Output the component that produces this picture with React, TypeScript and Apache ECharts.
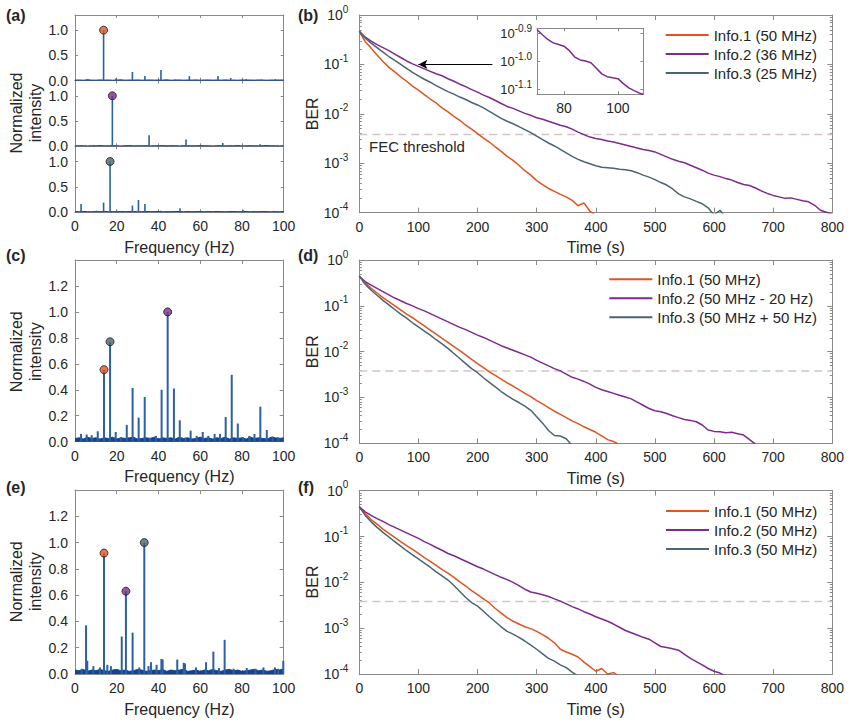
import React, { useEffect, useRef } from "react";
import * as echarts from "echarts";

const FONT = "'Liberation Sans', Arial, Helvetica, sans-serif";
const INK = "#262626";
const FRAME = "#8a8a8a";
const ORANGE = "#e4531f";
const PURPLE = "#7e2a8f";
const SLATE = "#4b6471";
const STEM = "#2a61a6";
const FLOOR = "#17438c";
const FEC_COLOR = "#d3c5c5";

// ---------- spectra (frequency in Hz, normalized intensity) ----------
const floorHz = [0, 2, 4, 6, 8, 10, 12, 14, 16, 18, 20, 22, 24, 26, 28, 30, 32, 34, 36, 38, 40, 42, 44, 46, 48, 50, 52, 54, 56, 58, 60, 62, 64, 66, 68, 70, 72, 74, 76, 78, 80, 82, 84, 86, 88, 90, 92, 94, 96, 98, 100];

// (a) Info.1 alone
const aInfo1PeakHz = [13.7];
const aInfo1PeakAmp = [1.0];
const aInfo1LineHz = [5.9, 19.6, 27.5, 33.5, 41.2, 48.0, 54.8, 61.5, 68.5, 74.6, 82.0, 89.5, 96.0];
const aInfo1LineAmp = [0.03, 0.04, 0.17, 0.09, 0.21, 0.02, 0.09, 0.015, 0.09, 0.05, 0.03, 0.02, 0.03];
const aInfo1Floor = [0.010, 0.012, 0.008, 0.015, 0.010, 0.009, 0.014, 0.010, 0.012, 0.008, 0.011, 0.015, 0.009, 0.012, 0.010, 0.014, 0.008, 0.011, 0.013, 0.009, 0.012, 0.010, 0.015, 0.008, 0.011, 0.013, 0.009, 0.012, 0.010, 0.014, 0.008, 0.011, 0.013, 0.010, 0.012, 0.009, 0.014, 0.010, 0.011, 0.008, 0.013, 0.010, 0.012, 0.009, 0.014, 0.011, 0.008, 0.012, 0.010, 0.013, 0.011];

// (a) Info.2 alone
const aInfo2PeakHz = [17.9];
const aInfo2PeakAmp = [1.0];
const aInfo2LineHz = [9.0, 26.5, 35.5, 44.0, 53.2, 62.0, 70.8, 79.5, 88.7, 97.0];
const aInfo2LineAmp = [0.015, 0.02, 0.22, 0.015, 0.134, 0.015, 0.067, 0.015, 0.04, 0.015];
const aInfo2Floor = [0.009, 0.011, 0.013, 0.008, 0.012, 0.010, 0.014, 0.009, 0.011, 0.013, 0.010, 0.008, 0.012, 0.014, 0.009, 0.011, 0.010, 0.013, 0.008, 0.012, 0.010, 0.014, 0.009, 0.011, 0.012, 0.008, 0.013, 0.010, 0.011, 0.009, 0.014, 0.010, 0.012, 0.008, 0.011, 0.013, 0.009, 0.012, 0.010, 0.014, 0.008, 0.011, 0.013, 0.010, 0.009, 0.012, 0.014, 0.010, 0.011, 0.008, 0.012];

// (a) Info.3 alone
const aInfo3PeakHz = [16.8];
const aInfo3PeakAmp = [1.0];
const aInfo3LineHz = [2.9, 10.4, 13.7, 20.0, 27.5, 30.4, 33.5, 41.2, 44.0, 50.3, 60.0, 70.5, 80.7, 88.0, 97.0];
const aInfo3LineAmp = [0.16, 0.03, 0.19, 0.03, 0.13, 0.24, 0.16, 0.03, 0.02, 0.08, 0.015, 0.015, 0.04, 0.015, 0.02];
const aInfo3Floor = [0.012, 0.010, 0.014, 0.011, 0.009, 0.013, 0.010, 0.015, 0.011, 0.012, 0.009, 0.013, 0.010, 0.012, 0.014, 0.009, 0.011, 0.013, 0.010, 0.012, 0.015, 0.009, 0.011, 0.010, 0.013, 0.012, 0.009, 0.014, 0.010, 0.011, 0.013, 0.009, 0.012, 0.010, 0.014, 0.011, 0.009, 0.012, 0.013, 0.010, 0.011, 0.014, 0.009, 0.012, 0.010, 0.013, 0.011, 0.009, 0.012, 0.010, 0.014];

// (c) mixed: Info.1, Info.3, Info.2
const cPeakHz = [13.9, 16.8, 44.4];
const cPeakAmp = [0.555, 0.77, 1.0];
const cLineHz = [2.9, 5.6, 8.0, 10.9, 19.5, 22.0, 24.8, 27.6, 30.5, 33.4, 36.0, 38.8, 41.5, 47.4, 50.2, 53.0, 55.4, 58.3, 61.2, 63.9, 66.9, 69.5, 72.2, 75.1, 78.0, 80.5, 83.5, 86.0, 88.8, 91.9, 94.7, 97.4];
const cLineAmp = [0.06, 0.055, 0.05, 0.08, 0.075, 0.035, 0.13, 0.415, 0.185, 0.345, 0.03, 0.045, 0.40, 0.41, 0.165, 0.03, 0.085, 0.045, 0.075, 0.045, 0.06, 0.06, 0.19, 0.515, 0.14, 0.035, 0.045, 0.06, 0.27, 0.09, 0.04, 0.035];
const cFloor = [0.025, 0.030, 0.020, 0.035, 0.025, 0.030, 0.020, 0.030, 0.025, 0.035, 0.020, 0.030, 0.025, 0.030, 0.035, 0.020, 0.025, 0.030, 0.025, 0.035, 0.020, 0.030, 0.025, 0.030, 0.020, 0.035, 0.025, 0.030, 0.020, 0.025, 0.035, 0.025, 0.030, 0.020, 0.030, 0.025, 0.035, 0.020, 0.030, 0.025, 0.030, 0.020, 0.035, 0.025, 0.030, 0.025, 0.020, 0.035, 0.030, 0.025, 0.030];

// (e) mixed: Info.1, Info.2, Info.3
const ePeakHz = [13.9, 24.4, 33.2];
const ePeakAmp = [0.92, 0.63, 1.0];
const eLineHz = [3.2, 5.3, 5.9, 8.8, 12.0, 15.5, 17.2, 22.4, 27.6, 30.8, 35.2, 36.4, 39.1, 41.4, 42.0, 49.0, 52.1, 52.7, 58.0, 62.8, 66.3, 69.0, 71.7, 76.0, 82.3, 86.5, 90.3, 95.8, 97.4, 99.8];
const eLineAmp = [0.04, 0.37, 0.10, 0.06, 0.05, 0.07, 0.06, 0.285, 0.315, 0.05, 0.06, 0.09, 0.07, 0.115, 0.11, 0.11, 0.085, 0.08, 0.05, 0.09, 0.17, 0.045, 0.26, 0.04, 0.045, 0.04, 0.05, 0.05, 0.04, 0.10];
const eFloor = [0.030, 0.025, 0.035, 0.020, 0.030, 0.025, 0.035, 0.025, 0.020, 0.030, 0.035, 0.025, 0.030, 0.020, 0.025, 0.035, 0.030, 0.020, 0.025, 0.030, 0.025, 0.035, 0.020, 0.030, 0.025, 0.030, 0.035, 0.020, 0.025, 0.030, 0.020, 0.030, 0.025, 0.035, 0.025, 0.020, 0.030, 0.035, 0.025, 0.030, 0.020, 0.025, 0.030, 0.035, 0.025, 0.030, 0.020, 0.025, 0.035, 0.030, 0.040];

// ---------- BER traces: log10(BER) sampled every 10 s ----------
const tSec = [0, 10, 20, 30, 40, 50, 60, 70, 80, 90, 100, 110, 120, 130, 140, 150, 160, 170, 180, 190, 200, 210, 220, 230, 240, 250, 260, 270, 280, 290, 300, 310, 320, 330, 340, 350, 360, 370, 380, 390, 400, 410, 420, 430, 440, 450, 460, 470, 480, 490, 500, 510, 520, 530, 540, 550, 560, 570, 580, 590, 600, 610, 620, 630, 640, 650, 660, 670, 680, 690, 700, 710, 720, 730, 740, 750, 760, 770, 780, 790, 800];

const bInfo1 = [-0.33, -0.54, -0.67, -0.81, -0.94, -1.06, -1.15, -1.25, -1.34, -1.44, -1.52, -1.61, -1.70, -1.78, -1.88, -1.96, -2.05, -2.13, -2.23, -2.31, -2.40, -2.49, -2.57, -2.67, -2.76, -2.86, -2.94, -3.04, -3.15, -3.24, -3.35, -3.43, -3.51, -3.57, -3.63, -3.68, -3.75, -3.86, -3.80, -3.97, -4.06];
const bInfo2 = [-0.33, -0.45, -0.53, -0.60, -0.66, -0.72, -0.79, -0.86, -0.93, -0.99, -1.04, -1.09, -1.14, -1.19, -1.23, -1.29, -1.34, -1.40, -1.45, -1.51, -1.56, -1.62, -1.67, -1.73, -1.79, -1.85, -1.89, -1.94, -1.99, -2.03, -2.08, -2.11, -2.15, -2.19, -2.23, -2.26, -2.31, -2.37, -2.42, -2.47, -2.50, -2.52, -2.55, -2.57, -2.60, -2.63, -2.66, -2.69, -2.72, -2.74, -2.77, -2.82, -2.87, -2.92, -2.96, -2.99, -3.04, -3.09, -3.14, -3.20, -3.24, -3.27, -3.31, -3.34, -3.39, -3.43, -3.45, -3.50, -3.56, -3.61, -3.65, -3.68, -3.71, -3.70, -3.73, -3.76, -3.78, -3.85, -3.95, -3.99, -4.03];
const bInfo3 = [-0.33, -0.47, -0.57, -0.66, -0.75, -0.84, -0.92, -1.00, -1.08, -1.16, -1.23, -1.30, -1.36, -1.43, -1.49, -1.55, -1.60, -1.66, -1.71, -1.77, -1.82, -1.88, -1.95, -2.02, -2.09, -2.15, -2.20, -2.26, -2.32, -2.38, -2.45, -2.52, -2.59, -2.65, -2.72, -2.79, -2.86, -2.92, -2.97, -3.01, -3.05, -3.08, -3.09, -3.10, -3.12, -3.13, -3.15, -3.19, -3.24, -3.28, -3.33, -3.39, -3.44, -3.52, -3.62, -3.68, -3.72, -3.77, -3.82, -3.90, -4.05, -3.95, -4.10];

const dInfo1 = [-0.35, -0.50, -0.62, -0.72, -0.82, -0.91, -1.00, -1.09, -1.18, -1.26, -1.35, -1.44, -1.53, -1.62, -1.71, -1.80, -1.89, -1.98, -2.07, -2.17, -2.26, -2.35, -2.44, -2.52, -2.60, -2.68, -2.75, -2.83, -2.91, -2.98, -3.07, -3.14, -3.22, -3.30, -3.37, -3.44, -3.51, -3.57, -3.64, -3.70, -3.76, -3.84, -3.92, -3.96, -4.03];
const dInfo2 = [-0.36, -0.47, -0.55, -0.62, -0.69, -0.76, -0.83, -0.89, -0.95, -1.00, -1.06, -1.11, -1.17, -1.23, -1.29, -1.35, -1.41, -1.47, -1.52, -1.58, -1.64, -1.69, -1.75, -1.81, -1.87, -1.92, -1.97, -2.02, -2.07, -2.12, -2.19, -2.25, -2.31, -2.37, -2.42, -2.49, -2.56, -2.60, -2.65, -2.71, -2.78, -2.83, -2.87, -2.91, -2.95, -2.99, -3.03, -3.10, -3.17, -3.24, -3.29, -3.31, -3.35, -3.40, -3.44, -3.48, -3.50, -3.53, -3.60, -3.71, -3.74, -3.75, -3.77, -3.76, -3.79, -3.82, -3.92, -4.02];
const dInfo3 = [-0.35, -0.53, -0.66, -0.77, -0.88, -0.98, -1.08, -1.18, -1.27, -1.37, -1.46, -1.55, -1.64, -1.74, -1.83, -1.93, -2.04, -2.15, -2.26, -2.37, -2.46, -2.57, -2.67, -2.77, -2.87, -2.96, -3.04, -3.11, -3.19, -3.28, -3.42, -3.56, -3.72, -3.83, -3.84, -3.90, -4.05];

const fInfo1 = [-0.35, -0.50, -0.63, -0.73, -0.84, -0.93, -1.02, -1.11, -1.20, -1.28, -1.37, -1.46, -1.54, -1.63, -1.72, -1.80, -1.89, -1.99, -2.08, -2.18, -2.27, -2.36, -2.45, -2.57, -2.67, -2.77, -2.85, -2.91, -2.97, -3.01, -3.07, -3.14, -3.22, -3.32, -3.46, -3.52, -3.57, -3.63, -3.74, -3.84, -3.94, -3.88, -4.00, -3.97, -4.05];
const fInfo2 = [-0.35, -0.46, -0.54, -0.61, -0.67, -0.74, -0.80, -0.86, -0.92, -0.98, -1.04, -1.11, -1.17, -1.24, -1.30, -1.37, -1.42, -1.48, -1.54, -1.60, -1.66, -1.71, -1.77, -1.83, -1.89, -1.94, -2.00, -2.07, -2.15, -2.21, -2.24, -2.27, -2.31, -2.36, -2.41, -2.47, -2.53, -2.58, -2.64, -2.69, -2.75, -2.80, -2.85, -2.91, -2.98, -3.05, -3.10, -3.15, -3.20, -3.24, -3.32, -3.40, -3.42, -3.45, -3.48, -3.57, -3.66, -3.73, -3.80, -3.88, -3.94, -3.98, -4.05];
const fInfo3 = [-0.35, -0.54, -0.68, -0.80, -0.91, -1.01, -1.11, -1.21, -1.31, -1.40, -1.49, -1.58, -1.67, -1.77, -1.86, -1.95, -2.07, -2.20, -2.33, -2.44, -2.52, -2.63, -2.75, -2.86, -2.97, -3.07, -3.13, -3.20, -3.28, -3.37, -3.46, -3.56, -3.66, -3.72, -3.80, -3.86, -3.96, -4.05];

// inset of (b): Info.2 between 70 s and ~109 s, log10(BER)
const insetSec = [70, 72, 74, 76, 78, 80, 82, 84, 86, 88, 90, 92, 94, 96, 98, 100, 102, 104, 106, 108, 109.4];
const insetLog = [-0.886, -0.905, -0.922, -0.934, -0.940, -0.946, -0.962, -0.985, -0.995, -0.999, -1.005, -1.025, -1.045, -1.055, -1.059, -1.062, -1.080, -1.095, -1.105, -1.114, -1.118];

const fecThresholdBER = 3.8e-3;
const arrowFromSec = 225;
const arrowToSec = 100;
const arrowLog = -1.0;

const legendB = ["Info.1 (50 MHz)", "Info.2 (36 MHz)", "Info.3 (25 MHz)"];
const legendD = ["Info.1 (50 MHz)", "Info.2 (50 MHz - 20 Hz)", "Info.3 (50 MHz + 50 Hz)"];
const legendF = ["Info.1 (50 MHz)", "Info.2 (50 MHz)", "Info.3 (50 MHz)"];

const minorMantissa = [2, 3, 4, 5, 6, 7, 8, 9];

function buildOption() {
  const grids: any[] = [];
  const xAxes: any[] = [];
  const yAxes: any[] = [];
  const series: any[] = [];
  const graphics: any[] = [];

  const addGrid = (left: number, top: number, width: number, height: number, bg?: string) => {
    grids.push({
      left, top, width, height,
      containLabel: false,
      outerBoundsMode: "none",
      show: !!bg,
      backgroundColor: bg || "transparent",
      borderWidth: 0,
    });
    return grids.length - 1;
  };

  const axis = (gridIndex: number, position: string, cfg: any) => {
    const isX = position === "top" || position === "bottom";
    const mirror = position === "top" || position === "right";
    const a: any = {
      type: "value",
      gridIndex,
      position,
      min: cfg.min,
      max: cfg.max,
      interval: cfg.interval,
      silent: true,
      axisLine: { show: cfg.line !== false, onZero: false, lineStyle: { color: FRAME, width: 1 } },
      axisTick: {
        show: true,
        inside: true,
        length: cfg.tick ?? 4,
        lineStyle: { color: FRAME, width: 1 },
      },
      axisLabel: {
        show: !mirror && cfg.labels !== false,
        color: INK,
        fontSize: cfg.fontSize ?? 14,
        fontFamily: FONT,
        margin: cfg.margin ?? 7,
        formatter: cfg.formatter,
        rich: cfg.rich,
      },
      splitLine: { show: false },
      minorTick: { show: false },
    };
    if (cfg.ticks) {
      a.axisTick.customValues = cfg.ticks;
      a.axisLabel.customValues = cfg.ticks;
    }
    if (cfg.name && !mirror) {
      a.name = cfg.name;
      a.nameLocation = "middle";
      a.nameGap = cfg.nameGap ?? 27;
      a.nameTextStyle = { color: INK, fontSize: 16, fontFamily: FONT };
    }
    const list = isX ? xAxes : yAxes;
    list.push(a);
    return list.length - 1;
  };

  const fixed1 = (v: number) => v.toFixed(1);
  const berRich = {
    b: { fontSize: 14, lineHeight: 22, color: INK, fontFamily: FONT },
    s: { fontSize: 10, lineHeight: 14, verticalAlign: "top", color: INK, fontFamily: FONT },
  };
  const insetRich = {
    b: { fontSize: 13, lineHeight: 20, color: INK, fontFamily: FONT },
    s: { fontSize: 10, lineHeight: 13, verticalAlign: "top", color: INK, fontFamily: FONT },
  };

  const minorTicks: number[] = [];
  for (const d of [-4, -3, -2, -1]) for (const m of minorMantissa) minorTicks.push(d + Math.log10(m));

  const spectrumPanel = (
    left: number, top: number, width: number, height: number,
    ymax: number, yTicks: number[], withFreqLabels: boolean,
    floor: number[], peakHz: number[], peakAmp: number[], peakColors: string[],
    lineHz: number[], lineAmp: number[], stemWidth: number, tick: number
  ) => {
    const g = addGrid(left, top, width, height);
    const xi = axis(g, "bottom", {
      min: 0, max: 100, interval: 20, tick,
      labels: withFreqLabels,
      name: withFreqLabels ? "Frequency (Hz)" : undefined,
      nameGap: 27,
    });
    axis(g, "top", { min: 0, max: 100, interval: 20, tick });
    const yi = axis(g, "left", { min: 0, max: ymax, ticks: yTicks, formatter: fixed1, tick });
    axis(g, "right", { min: 0, max: ymax, ticks: yTicks, tick });

    series.push({
      type: "line", xAxisIndex: xi, yAxisIndex: yi, silent: true,
      data: floorHz.map((f, k) => [f, floor[k]]),
      symbol: "none",
      lineStyle: { color: FLOOR, width: 1 },
      areaStyle: { color: FLOOR, opacity: 1 },
      z: 2,
    });
    const stems = peakHz.map((f, k) => [f, peakAmp[k]]).concat(lineHz.map((f, k) => [f, lineAmp[k]]));
    series.push({
      type: "bar", xAxisIndex: xi, yAxisIndex: yi, silent: true,
      data: stems,
      barWidth: stemWidth,
      itemStyle: { color: STEM },
      z: 3,
    });
    series.push({
      type: "scatter", xAxisIndex: xi, yAxisIndex: yi, silent: true,
      data: peakHz.map((f, k) => ({ value: [f, peakAmp[k]], itemStyle: { color: peakColors[k] } })),
      symbolSize: 8,
      itemStyle: { borderColor: "#1c1c1c", borderWidth: 1 },
      z: 5,
    });
  };

  const berPanel = (
    left: number, top: number, width: number, height: number,
    curves: { name: string; values: number[]; color: string }[],
    withArrow: boolean
  ) => {
    const g = addGrid(left, top, width, height);
    const xi = axis(g, "bottom", { min: 0, max: 800, interval: 100, tick: 5, name: "Time (s)", nameGap: 27 });
    axis(g, "top", { min: 0, max: 800, interval: 100, tick: 5 });
    const yi = axis(g, "left", {
      min: -4, max: 0, interval: 1, tick: 5, margin: 11,
      formatter: (v: number) => `{b|10}{s|${Math.round(v)}}`,
      rich: berRich,
    });
    axis(g, "right", { min: -4, max: 0, interval: 1, tick: 5 });
    axis(g, "left", { min: -4, max: 0, ticks: minorTicks, tick: 2.5, line: false, labels: false });
    axis(g, "right", { min: -4, max: 0, ticks: minorTicks, tick: 2.5, line: false });

    const fecLog = Math.log10(fecThresholdBER);
    const fec: any = {
      type: "line", name: "FEC", xAxisIndex: xi, yAxisIndex: yi, silent: true,
      data: [[0, fecLog], [800, fecLog]],
      symbol: "none",
      lineStyle: { color: FEC_COLOR, width: 1.5, type: [8, 5] },
      z: 2,
    };
    if (withArrow) {
      fec.markLine = {
        silent: true,
        symbol: ["none", "arrow"],
        symbolSize: [7, 9],
        lineStyle: { color: "#000", width: 1, type: "solid" },
        label: { show: false },
        data: [[{ coord: [arrowFromSec, arrowLog] }, { coord: [arrowToSec, arrowLog] }]],
      };
    }
    series.push(fec);

    for (const c of curves) {
      series.push({
        type: "line", name: c.name, xAxisIndex: xi, yAxisIndex: yi, silent: true,
        data: c.values.map((v, k) => [tSec[k], v]),
        symbol: "none",
        showSymbol: false,
        clip: true,
        lineStyle: { color: c.color, width: 1.5 },
        itemStyle: { color: c.color },
        z: 3,
      });
    }
  };

  // (a) three stacked single-signal spectra
  const aTicks = [0, 0.5, 1.0];
  spectrumPanel(75, 15, 208.7, 65.6, 1.3, aTicks, false, aInfo1Floor, aInfo1PeakHz, aInfo1PeakAmp, [ORANGE], aInfo1LineHz, aInfo1LineAmp, 1.6, 3);
  spectrumPanel(75, 80.6, 208.7, 65.7, 1.3, aTicks, false, aInfo2Floor, aInfo2PeakHz, aInfo2PeakAmp, [PURPLE], aInfo2LineHz, aInfo2LineAmp, 1.6, 3);
  spectrumPanel(75, 146.3, 208.7, 65.9, 1.3, aTicks, true, aInfo3Floor, aInfo3PeakHz, aInfo3PeakAmp, [SLATE], aInfo3LineHz, aInfo3LineAmp, 1.6, 3);

  // (c), (e) mixed spectra
  const ceTicks = [0, 0.2, 0.4, 0.6, 0.8, 1.0, 1.2];
  spectrumPanel(75, 260, 208.7, 181.7, 1.4, ceTicks, true, cFloor, cPeakHz, cPeakAmp, [ORANGE, SLATE, PURPLE], cLineHz, cLineAmp, 2, 4);
  spectrumPanel(75, 490, 208.7, 184, 1.4, ceTicks, true, eFloor, ePeakHz, ePeakAmp, [ORANGE, PURPLE, SLATE], eLineHz, eLineAmp, 2, 4);

  // (b), (d), (f) BER versus time
  berPanel(359.3, 15, 473, 197.7, [
    { name: legendB[0], values: bInfo1, color: ORANGE },
    { name: legendB[1], values: bInfo2, color: PURPLE },
    { name: legendB[2], values: bInfo3, color: SLATE },
  ], true);
  berPanel(359.3, 260, 473, 183.3, [
    { name: legendD[0], values: dInfo1, color: ORANGE },
    { name: legendD[1], values: dInfo2, color: PURPLE },
    { name: legendD[2], values: dInfo3, color: SLATE },
  ], false);
  berPanel(359.3, 490.7, 473, 183.3, [
    { name: legendF[0], values: fInfo1, color: ORANGE },
    { name: legendF[1], values: fInfo2, color: PURPLE },
    { name: legendF[2], values: fInfo3, color: SLATE },
  ], false);

  // inset of (b)
  const gi = addGrid(537, 28.3, 106.3, 66, "#ffffff");
  const ixi = axis(gi, "bottom", { min: 70, max: 109.4, ticks: [80, 100], tick: 3, margin: 7 });
  axis(gi, "top", { min: 70, max: 109.4, ticks: [80, 100], tick: 3 });
  const iyi = axis(gi, "left", {
    min: -1.118, max: -0.882, ticks: [-1.1, -1.0, -0.9], tick: 3, margin: 5,
    formatter: (v: number) => `{b|10}{s|${v.toFixed(1)}}`,
    rich: insetRich,
  });
  axis(gi, "right", { min: -1.118, max: -0.882, ticks: [-1.1, -1.0, -0.9], tick: 3 });
  series.push({
    type: "line", xAxisIndex: ixi, yAxisIndex: iyi, silent: true,
    data: insetSec.map((t, k) => [t, insetLog[k]]),
    symbol: "none",
    clip: true,
    lineStyle: { color: PURPLE, width: 1.5 },
    z: 4,
  });

  const legendBase = {
    orient: "vertical",
    icon: "rect",
    itemWidth: 43,
    itemHeight: 2,
    itemGap: 4,
    padding: 0,
    selectedMode: false,
    textStyle: { color: INK, fontSize: 15, fontFamily: FONT },
  };
  const legends = [
    { ...legendBase, left: 665.7, top: 27.5, data: legendB },
    { ...legendBase, left: 609.3, top: 271.8, data: legendD },
    { ...legendBase, left: 666, top: 503.5, data: legendF },
  ];

  const txt = (text: string, x: number, y: number, opts: any = {}) => ({
    type: "text",
    x, y,
    rotation: opts.rotation ?? 0,
    silent: true,
    z: 10,
    style: {
      text,
      fill: INK,
      font: `${opts.weight ?? "normal"} ${opts.size ?? 16}px ${FONT}`,
      align: opts.align ?? "left",
      verticalAlign: "middle",
      textAlign: opts.align ?? "left",
      textVerticalAlign: "middle",
      lineHeight: opts.lineHeight,
    },
  });

  graphics.push(txt("(a)", 6, 15, { weight: "bold" }));
  graphics.push(txt("(b)", 298, 15, { weight: "bold" }));
  graphics.push(txt("(c)", 6, 255.5, { weight: "bold" }));
  graphics.push(txt("(d)", 298, 255.5, { weight: "bold" }));
  graphics.push(txt("(e)", 6, 487.5, { weight: "bold" }));
  graphics.push(txt("(f)", 298, 487.5, { weight: "bold" }));

  const yTitle = (text: string, x: number, y: number) =>
    txt(text, x, y, { rotation: Math.PI / 2, align: "center", lineHeight: 19 });
  graphics.push(yTitle("Normalized\nintensity", 26, 113));
  graphics.push(yTitle("Normalized\nintensity", 26, 351.7));
  graphics.push(yTitle("Normalized\nintensity", 26, 581.7));
  graphics.push(yTitle("BER", 312, 113.8));
  graphics.push(yTitle("BER", 312, 351.7));
  graphics.push(yTitle("BER", 312, 582));
  graphics.push(txt("FEC threshold", 369, 146.7, { size: 15 }));

  return {
    animation: false,
    backgroundColor: "#ffffff",
    textStyle: { fontFamily: FONT },
    grid: grids,
    xAxis: xAxes,
    yAxis: yAxes,
    legend: legends,
    series,
    graphic: graphics,
  };
}

export default function App() {
  const ref = useRef<HTMLDivElement>(null);
  useEffect(() => {
    if (!ref.current) return;
    const chart = echarts.init(ref.current, null, { renderer: "svg", width: 852, height: 725 });
    chart.setOption(buildOption() as any);
    return () => chart.dispose();
  }, []);
  return (
    <div
      ref={ref}
      style={{ position: "absolute", left: 0, top: 0, width: 852, height: 725, background: "#ffffff" }}
    />
  );
}
